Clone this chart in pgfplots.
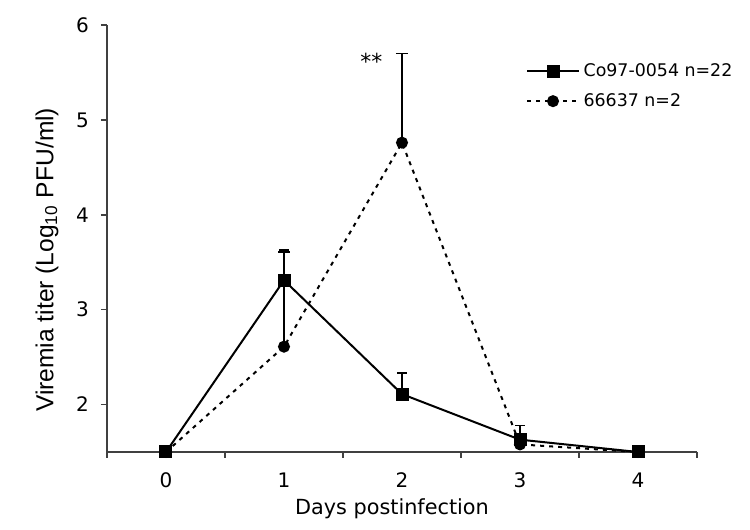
\documentclass[border=0pt]{standalone}
\usepackage{pgfplots}
\pgfplotsset{compat=1.18}
\usepackage{fontspec}
\setmainfont{DejaVu Sans}
\newfontfamily\arialfont{Liberation Sans}

\begin{document}
\begin{tikzpicture}
\begin{axis}[
  at={(0,0)}, anchor=south west,
  scale only axis, width=295pt, height=213.5pt,
  xmin=-0.5, xmax=4.5, ymin=1.5, ymax=6,
  axis lines*=left,
  axis line style={draw=black!75, line width=0.8pt},
  tick align=outside,
  tick style={draw=black!75, line width=0.8pt},
  major tick length=3pt,
  xtick={-0.5,0.5,1.5,2.5,3.5,4.5},
  xticklabels={},
  extra x ticks={0,1,2,3,4},
  extra x tick labels={0,1,2,3,4},
  extra x tick style={major tick length=0pt},
  ytick={2,3,4,5,6},
  ticklabel style={font=\fontsize{10}{12}\selectfont},
  xticklabel style={yshift=-7pt},
  yticklabel style={xshift=-2.5pt},
  /pgf/number format/assume math mode=true,
  xlabel={Days postinfection},
  ylabel={Viremia titer (Log\textsubscript{10} PFU/ml)},
  xlabel style={font=\fontsize{10.4}{12}\selectfont,
    at={([yshift=-28.5pt]axis description cs:0.483,0)}, anchor=center},
  ylabel style={font=\arialfont\fontsize{12.3}{14}\selectfont,
    at={([xshift=-30pt]axis description cs:0,0.45)}, anchor=center},
  legend style={at={(axis description cs:0.70,0.93)}, anchor=north west,
    draw=none, fill=none, font=\fontsize{8.7}{10}\selectfont, row sep=3pt},
  legend cell align=left,
  legend image code/.code={\draw[mark repeat=2,mark phase=2] plot coordinates {(0cm,0cm)(0.45cm,0cm)(0.9cm,0cm)};},
  clip=false,
]
\addplot[black, line width=1pt, mark=square*, mark size=2.75pt,
  mark options={solid, fill=black},
  error bars/.cd, y dir=plus, y explicit,
  error bar style={solid, line width=0.9pt},
  error mark options={rotate=90, solid, line width=0.9pt, mark size=2.3pt}]
  table[x=x, y=y, y error=e] {
  x y e
  0 1.50 0
  1 3.31 0.32
  2 2.11 0.22
  3 1.63 0.15
  4 1.50 0
};
\addlegendentry{Co97-0054 n=22}
\addplot[black, line width=1pt, dash pattern=on 2pt off 2.5pt, mark=*, mark size=2.5pt,
  mark options={solid, fill=black},
  error bars/.cd, y dir=plus, y explicit,
  error bar style={solid, line width=0.9pt},
  error mark options={rotate=90, solid, line width=0.9pt, mark size=3pt}]
  table[x=x, y=y, y error=e] {
  x y e
  0 1.50 0
  1 2.61 1.00
  2 4.76 0.94
  3 1.58 0
  4 1.50 0
};
\addlegendentry{66637 n=2}
\node[font=\fontsize{11}{13}\selectfont] at (axis cs:1.74,5.62) {**};
\end{axis}
\pgfresetboundingbox
\path[use as bounding box] (-53.5pt,-39pt) rectangle (321.5pt,226pt);
\end{tikzpicture}
\end{document}
